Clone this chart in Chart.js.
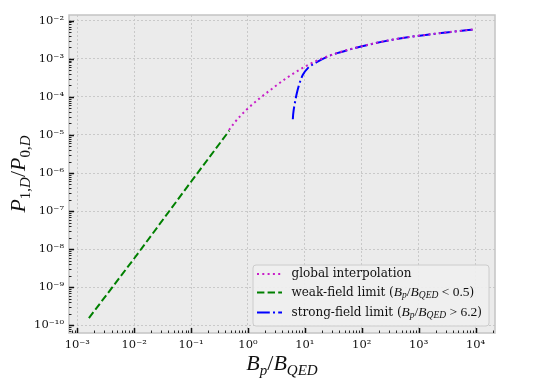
<!DOCTYPE html>
<html><head><meta charset="utf-8">
<script src="https://cdn.jsdelivr.net/npm/chart.js@4.4.0/dist/chart.umd.min.js"></script>
<style>html,body{margin:0;padding:0;background:#fff;}canvas{display:block;}</style>
</head><body>
<canvas id="c" width="550" height="378"></canvas>
<script>
// ---- data ----
const globalB = [0.4645, 0.585, 0.938, 1.603, 2.748, 4.72, 8.07, 12.08, 18.11, 40.6, 97.5, 233.9, 600, 1542, 3945, 10000];
const globalP = [1.349e-5, 2.138e-5, 4.571e-5, 9.12e-5, 1.698e-4, 3.09e-4, 5.13e-4, 7.24e-4, 9.55e-4, 1.479e-3, 2.113e-3, 2.831e-3, 3.631e-3, 4.365e-3, 5.129e-3, 5.957e-3];
const weakB = [1.6e-3, 1e-2, 1e-1, 0.47];
const weakP = [1.55e-10, 5.7e-9, 5.9e-7, 1.3e-5];
const strongB = [6.15, 6.24, 6.59, 7.24, 8.07, 9.23, 11.3, 15.85, 25.35, 40.6, 97.5, 233.9, 600, 1542, 3945, 10000];
const strongP = [2.59e-5, 3.55e-5, 6.17e-5, 1.259e-4, 2.29e-4, 3.80e-4, 5.69e-4, 8.0e-4, 1.148e-3, 1.462e-3, 2.099e-3, 2.818e-3, 3.614e-3, 4.345e-3, 5.105e-3, 5.93e-3];
const xTickExps = [-3, -2, -1, 0, 1, 2, 3, 4];
const yTickExps = [-10, -9, -8, -7, -6, -5, -4, -3, -2];
const seriesNames = ['global interpolation', 'weak-field limit', 'strong-field limit'];

const SUP = {'-':'\u207B','0':'\u2070','1':'\u00B9','2':'\u00B2','3':'\u00B3','4':'\u2074','5':'\u2075','6':'\u2076','7':'\u2077','8':'\u2078','9':'\u2079'};
function fmtPow(v){ const e = Math.round(Math.log10(v)); return '10' + String(e).split('').map(c=>SUP[c]).join(''); }
const xy = (xs, ys) => xs.map((x,i)=>({x:x, y:ys[i]}));

const SERIF = '"DejaVu Serif", serif';
const MATH = '"Liberation Serif", "Times New Roman", serif';

function drawRich(ctx, x, y, segs, align){
  let total = 0;
  segs.forEach(s=>{ ctx.font = s.f; s.w = ctx.measureText(s.t).width; total += s.w; });
  let cx = align === 'center' ? x - total/2 : x;
  segs.forEach(s=>{ ctx.font = s.f; ctx.fillText(s.t, cx, y + (s.dy||0)); cx += s.w; });
}

const decor = {
  id: 'decor',
  beforeDraw(chart){
    const {ctx, chartArea:a} = chart;
    ctx.save();
    ctx.fillStyle = '#ebebeb';
    ctx.fillRect(a.left, a.top, a.right-a.left, a.bottom-a.top);
    ctx.restore();
  },
  afterDraw(chart){
    const {ctx, chartArea:a, scales:{x, y}} = chart;
    ctx.save();
    // frame
    ctx.strokeStyle = '#c4c4c4'; ctx.lineWidth = 1.5; ctx.setLineDash([]);
    ctx.strokeRect(a.left, a.top, a.right-a.left, a.bottom-a.top);
    // inward ticks
    ctx.strokeStyle = '#111';
    for (let e = -12; e <= 5; e++){
      for (let m = 1; m <= 9; m++){
        const v = m * Math.pow(10, e);
        const major = m === 1;
        ctx.lineWidth = major ? 1.5 : 0.9;
        const len = major ? 5 : 2.5;
        if (v >= x.min && v <= x.max){
          const px = Math.round(x.getPixelForValue(v)) + 0.5;
          ctx.beginPath(); ctx.moveTo(px, a.bottom); ctx.lineTo(px, a.bottom - len); ctx.stroke();
        }
        if (v >= y.min && v <= y.max){
          const py = Math.round(y.getPixelForValue(v)) + 0.5;
          ctx.beginPath(); ctx.moveTo(a.left, py); ctx.lineTo(a.left + len, py); ctx.stroke();
        }
      }
    }
    // axis titles
    ctx.fillStyle = '#111'; ctx.textBaseline = 'alphabetic'; ctx.textAlign = 'left';
    const big = 22, sub = 15, sdy = 5;
    drawRich(ctx, (a.left + a.right)/2, 370, [
      {t:'B', f:`italic ${big}px ${MATH}`},
      {t:'p', f:`italic ${sub}px ${MATH}`, dy:sdy},
      {t:'/', f:`${big}px ${MATH}`},
      {t:'B', f:`italic ${big}px ${MATH}`},
      {t:'QED', f:`italic ${sub}px ${MATH}`, dy:sdy}
    ], 'center');
    ctx.save();
    ctx.translate(25, (a.top + a.bottom)/2);
    ctx.rotate(-Math.PI/2);
    drawRich(ctx, 0, 0, [
      {t:'P', f:`italic ${big}px ${MATH}`},
      {t:'1,', f:`${sub}px ${MATH}`, dy:sdy},
      {t:'D', f:`italic ${sub}px ${MATH}`, dy:sdy},
      {t:'/', f:`${big}px ${MATH}`},
      {t:'P', f:`italic ${big}px ${MATH}`},
      {t:'0,', f:`${sub}px ${MATH}`, dy:sdy},
      {t:'D', f:`italic ${sub}px ${MATH}`, dy:sdy}
    ], 'center');
    ctx.restore();
    // legend
    const L = {x:253, y:265, w:236, h:61, r:3};
    ctx.beginPath();
    ctx.moveTo(L.x+L.r, L.y); ctx.lineTo(L.x+L.w-L.r, L.y); ctx.arcTo(L.x+L.w, L.y, L.x+L.w, L.y+L.r, L.r);
    ctx.lineTo(L.x+L.w, L.y+L.h-L.r); ctx.arcTo(L.x+L.w, L.y+L.h, L.x+L.w-L.r, L.y+L.h, L.r);
    ctx.lineTo(L.x+L.r, L.y+L.h); ctx.arcTo(L.x, L.y+L.h, L.x, L.y+L.h-L.r, L.r);
    ctx.lineTo(L.x, L.y+L.r); ctx.arcTo(L.x, L.y, L.x+L.r, L.y, L.r); ctx.closePath();
    ctx.fillStyle = 'rgba(240,240,240,0.9)'; ctx.fill();
    ctx.strokeStyle = '#cccccc'; ctx.lineWidth = 1; ctx.stroke();
    const rows = [274, 292.5, 312.5];
    const ds = chart.data.datasets;
    const lf = `12px ${SERIF}`, mf = `italic 13.5px ${MATH}`, msf = `italic 9.5px ${MATH}`, rf = `13.5px ${MATH}`;
    const rowSegs = [
      [{t:seriesNames[0], f:lf}],
      [{t:seriesNames[1] + ' (', f:lf}, {t:'B', f:mf}, {t:'p', f:msf, dy:3}, {t:'/', f:rf}, {t:'B', f:mf}, {t:'QED', f:msf, dy:3}, {t:' < 0.5', f:rf}, {t:')', f:lf}],
      [{t:seriesNames[2] + ' (', f:lf}, {t:'B', f:mf}, {t:'p', f:msf, dy:3}, {t:'/', f:rf}, {t:'B', f:mf}, {t:'QED', f:msf, dy:3}, {t:' > 6.2', f:rf}, {t:')', f:lf}]
    ];
    rows.forEach((ry, i)=>{
      const d = ds[i];
      ctx.strokeStyle = d.borderColor; ctx.lineWidth = d.borderWidth; ctx.setLineDash(d.borderDash);
      ctx.beginPath(); ctx.moveTo(257, ry); ctx.lineTo(282, ry); ctx.stroke();
      ctx.setLineDash([]);
      ctx.fillStyle = '#111'; ctx.textBaseline = 'middle';
      drawRich(ctx, 291.5, ry, rowSegs[i], 'left');
    });
    ctx.restore();
  }
};

const tickFont = {family:'DejaVu Serif', size:11.5};
new Chart(document.getElementById('c').getContext('2d'), {
  type: 'scatter',
  data: { datasets: [
    {label: seriesNames[0], data: xy(globalB, globalP), showLine:true, borderColor:'#c81ec8', borderWidth:2, borderDash:[2,3.3], pointRadius:0, cubicInterpolationMode:'monotone', fill:false},
    {label: seriesNames[1], data: xy(weakB, weakP), showLine:true, borderColor:'#008000', borderWidth:2, borderDash:[7.4,3.2], pointRadius:0, fill:false},
    {label: seriesNames[2], data: xy(strongB, strongP), showLine:true, borderColor:'#0000ff', borderWidth:2, borderDash:[12.8,3.2,2,3.2], pointRadius:0, cubicInterpolationMode:'monotone', fill:false}
  ]},
  options: {
    responsive:false, animation:false, devicePixelRatio:1,
    layout:{padding:{left:0, top:15, right:55, bottom:0}},
    plugins:{legend:{display:false}, tooltip:{enabled:false}},
    scales:{
      x:{type:'logarithmic', min:7.15e-4, max:2.2e4,
         afterBuildTicks:s=>{ s.ticks = xTickExps.map(e=>({value:Math.pow(10,e)})); },
         afterFit:s=>{ s.height = 45; },
         grid:{color:'#c9c9c9', lineWidth:1, drawTicks:false},
         border:{display:false, dash:[2,2]},
         ticks:{padding:5, font:tickFont, color:'#111', maxRotation:0, autoSkip:false, callback:v=>fmtPow(v)}},
      y:{type:'logarithmic', min:6.3e-11, max:1.41e-2,
         afterBuildTicks:s=>{ s.ticks = yTickExps.map(e=>({value:Math.pow(10,e)})); },
         afterFit:s=>{ s.width = 69; },
         grid:{color:'#c9c9c9', lineWidth:1, drawTicks:false},
         border:{display:false, dash:[2,2]},
         ticks:{padding:5, font:tickFont, color:'#111', autoSkip:false, callback:v=>fmtPow(v)}}
    }
  },
  plugins:[decor]
});
</script>
</body></html>
